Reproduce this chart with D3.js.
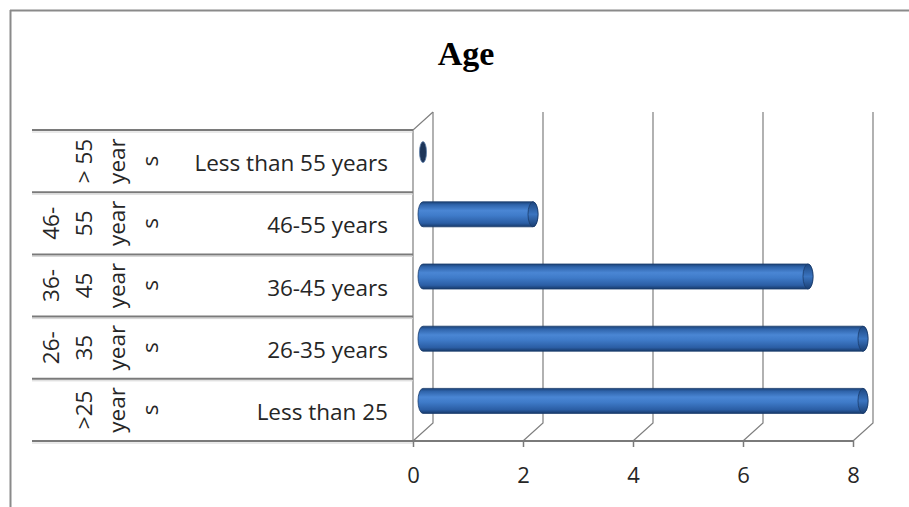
<!DOCTYPE html>
<html>
<head>
<meta charset="utf-8">
<script src="https://cdn.jsdelivr.net/npm/d3@7"></script>
<style>
  html, body { margin: 0; padding: 0; background: #fff; }
  svg { display: block; }
</style>
</head>
<body>
<svg id="chart" width="909" height="507"></svg>
<script>
// Age groups, listed from the top row down
const categories = ["Less than 55 years", "46-55 years", "36-45 years", "26-35 years", "Less than 25"];
const groupLines = [
  ["> 55", "year", "s"],
  ["46-", "55", "year", "s"],
  ["36-", "45", "year", "s"],
  ["26-", "35", "year", "s"],
  [">25", "year", "s"]
];
const values = [0, 2, 7, 8, 8];
const tickValues = [0, 2, 4, 6, 8];
const title = "Age";

const svg = d3.select("#chart");
const W = 909, H = 507;

// plot geometry (front plane) and 3D depth offset
const x0 = 413, x1 = 853, yTop = 130, yBot = 441;
const depthX = 20, depthY = -18;

const x = d3.scaleLinear().domain([0, 8]).range([x0, x1]);
const y = d3.scaleBand().domain(categories).range([yTop, yBot]).padding(0);

// chart frame
svg.append("line").attr("x1", 10).attr("x2", W).attr("y1", 10.5).attr("y2", 10.5)
  .attr("stroke", "#8a8a8a").attr("stroke-width", 2);
svg.append("line").attr("x1", 10.5).attr("x2", 10.5).attr("y1", 10).attr("y2", H)
  .attr("stroke", "#8a8a8a").attr("stroke-width", 2);

// title
svg.append("text")
  .attr("x", 466).attr("y", 65)
  .attr("text-anchor", "middle")
  .attr("font-family", "'Liberation Serif', 'Times New Roman', serif")
  .attr("font-weight", "bold")
  .attr("font-size", 34)
  .attr("fill", "#000")
  .text(title);

// back wall gridlines with floor slants
const grid = svg.append("g").attr("stroke", "#7f7f7f").attr("stroke-width", 1.2).attr("fill", "none");
tickValues.forEach(t => {
  const fx = x(t), bx = x(t) + depthX;
  grid.append("path")
    .attr("d", `M${fx},${yBot} L${bx},${yBot + depthY} L${bx},${yTop + depthY}`);
});
// side wall edges
grid.append("path").attr("d", `M${x0},${yBot} L${x0},${yTop} L${x0 + depthX},${yTop + depthY}`);

// category table row lines
const rowLines = svg.append("g");
const bounds = categories.map(c => y(c)).concat([yBot]);
bounds.forEach((b, i) => {
  rowLines.append("line")
    .attr("x1", 32).attr("x2", i === bounds.length - 1 ? x1 : x0)
    .attr("y1", b).attr("y2", b)
    .attr("stroke", "#7a7a7a").attr("stroke-width", 2);
  rowLines.append("line")
    .attr("x1", 32).attr("x2", x0)
    .attr("y1", b + 2).attr("y2", b + 2)
    .attr("stroke", "#d4d4d4").attr("stroke-width", 1);
});

// x axis
const axis = d3.axisBottom(x).tickValues(tickValues).tickSize(6).tickPadding(20)
  .tickFormat(d3.format("d"));
const ax = svg.append("g").attr("transform", `translate(0,${yBot})`).call(axis);
ax.select(".domain").remove();
ax.selectAll(".tick line").attr("stroke", "#7a7a7a").attr("stroke-width", 1.5);
ax.selectAll(".tick text")
  .attr("font-family", "'Open Sans', sans-serif")
  .attr("font-size", 22)
  .attr("fill", "#262626");

// cylinder gradient
const defs = svg.append("defs");
const grad = defs.append("linearGradient").attr("id", "cyl")
  .attr("x1", 0).attr("x2", 0).attr("y1", 0).attr("y2", 1);
[["0%", "#1b4277"], ["12%", "#2f64ab"], ["35%", "#4a86d4"], ["55%", "#3f7bc9"], ["85%", "#2b5ea5"], ["100%", "#173a6b"]]
  .forEach(([o, c]) => grad.append("stop").attr("offset", o).attr("stop-color", c));
const capGrad = defs.append("linearGradient").attr("id", "cap")
  .attr("x1", 0).attr("x2", 0).attr("y1", 0).attr("y2", 1);
[["0%", "#1d4780"], ["50%", "#3a74c0"], ["100%", "#1a3f73"]]
  .forEach(([o, c]) => capGrad.append("stop").attr("offset", o).attr("stop-color", c));

// bars as horizontal cylinders, placed at mid depth
const barH = 25, capR = 5;
const bars = svg.append("g");
categories.forEach((c, i) => {
  const v = values[i];
  const cy = y(c) + y.bandwidth() / 2 + depthY / 2;
  const xs = x(0) + depthX / 2;
  const xe = x(v) + depthX / 2;
  if (xe - xs < 1) {
    bars.append("ellipse")
      .attr("cx", xs).attr("cy", cy).attr("rx", 3.5).attr("ry", barH / 2 - 2)
      .attr("fill", "#1d3559").attr("stroke", "#5d7ea8").attr("stroke-width", 0.8);
    return;
  }
  bars.append("path")
    .attr("d", `M${xs},${cy - barH / 2} L${xe},${cy - barH / 2}
      A${capR},${barH / 2} 0 0 1 ${xe},${cy + barH / 2}
      L${xs},${cy + barH / 2}
      A${capR},${barH / 2} 0 0 1 ${xs},${cy - barH / 2} Z`)
    .attr("fill", "url(#cyl)")
    .attr("stroke", "#1b3c6c").attr("stroke-width", 0.8);
  bars.append("ellipse")
    .attr("cx", xe).attr("cy", cy).attr("rx", capR).attr("ry", barH / 2)
    .attr("fill", "url(#cap)").attr("stroke", "#1b3c6c").attr("stroke-width", 0.8);
});

// inner category labels
const labels = svg.append("g")
  .attr("font-family", "'Open Sans', sans-serif")
  .attr("font-size", 22.5)
  .attr("fill", "#262626");
categories.forEach(c => {
  labels.append("text")
    .attr("x", 388)
    .attr("y", y(c) + y.bandwidth() / 2 + 10)
    .attr("text-anchor", "end")
    .text(c);
});

// outer group labels, rotated and wrapped
groupLines.forEach((lines, i) => {
  const cy = y(categories[i]) + y.bandwidth() / 2;
  const n = lines.length;
  lines.forEach((ln, j) => {
    const bx = 158 - 33 * (n - 1 - j);
    labels.append("text")
      .attr("transform", `translate(${bx},${cy}) rotate(-90)`)
      .attr("text-anchor", "middle")
      .text(ln);
  });
});
</script>
</body>
</html>
